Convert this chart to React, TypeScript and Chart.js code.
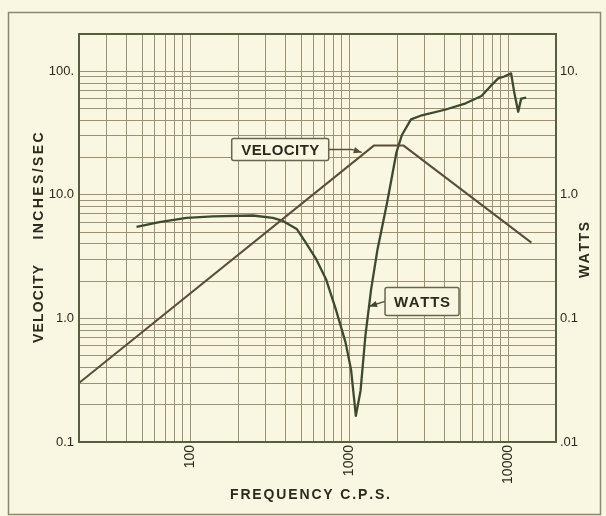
import React, { useEffect, useRef } from "react";
import { Chart, registerables } from "chart.js";

Chart.register(...registerables);

// ---- data ----
const velocityFreq = [20, 1430, 2200, 14000];
const velocityValues = [0.3, 25, 25, 4.1];

const wattsFreq = [
  46, 64, 95, 139, 248, 331, 383, 468, 540, 622, 718, 824, 949, 1028, 1102,
  1180, 1265, 1374, 1507, 1735, 1983, 2143, 2449, 2867, 4053, 5408, 6800,
  7850, 8660, 9460, 10440, 10910, 11570, 12080, 12980,
];
const wattsValues = [
  0.55, 0.6, 0.65, 0.67, 0.68, 0.65, 0.615, 0.53, 0.4, 0.3, 0.205, 0.119,
  0.064, 0.0385, 0.0163, 0.026, 0.072, 0.171, 0.36, 0.87, 2.2, 3.03, 4.08,
  4.4, 4.9, 5.5, 6.3, 7.7, 8.75, 9.06, 9.6, 6.8, 4.7, 6.0, 6.1,
];

// grid / tick values
const xGridValues = [
  20, 30, 40, 50, 60, 70, 80, 90, 100, 200, 300, 400, 500, 600, 700, 800, 900,
  1000, 2000, 3000, 4000, 5000, 6000, 7000, 8000, 9000, 10000, 20000,
];
const xLabelValues = [100, 1000, 10000];
const xLabelTexts = ["100", "1000", "10000"];

const velGridValues = [
  0.1, 0.2, 0.3, 0.4, 0.5, 0.6, 0.7, 0.8, 0.9, 1, 2, 3, 4, 5, 6, 7, 8, 9, 10,
  20, 30, 40, 50, 60, 70, 80, 90, 100, 200,
];
const velLabelValues = [0.1, 1, 10, 100];
const velLabelTexts = ["0.1", "1.0", "10.0", "100."];

const wattLabelValues = [0.01, 0.1, 1, 10];
const wattLabelTexts = [".01", "0.1", "1.0", "10."];

const xTitle = "FREQUENCY C.P.S.";
const leftTitleWords = ["VELOCITY", "INCHES/SEC"];
const rightTitle = "WATTS";

// callouts: text and the data point that the arrow points at
const velocityCallout = { text: "VELOCITY", freq: 1200, value: 22 };
const wattsCallout = { text: "WATTS", freq: 1334, value: 0.125 };

// ---- styles ----
const PAPER = "#f9f7e2";
const GRID = "#a09072";
const FRAME = "#56603f";
const INK = "#2c2a1e";
const VEL_COLOR = "#5a4e38";
const WATT_COLOR = "#3e4a2c";
const FONT = "'Liberation Sans', 'DejaVu Sans', sans-serif";

function labelFor(value: number, values: number[], texts: string[]) {
  for (let i = 0; i < values.length; i++) {
    if (Math.abs(value - values[i]) / values[i] < 1e-6) return texts[i];
  }
  return "";
}

// draws text centred at (cx, cy) stretched with letter spacing to a target width
function spacedText(ctx: CanvasRenderingContext2D, text: string, cx: number, cy: number, target: number) {
  const chars = Array.from(text);
  const widths = chars.map((c) => ctx.measureText(c).width);
  const natural = widths.reduce((a, b) => a + b, 0);
  const gap = chars.length > 1 ? Math.max(0, (target - natural) / (chars.length - 1)) : 0;
  let x = cx - (natural + gap * (chars.length - 1)) / 2;
  ctx.textAlign = "left";
  chars.forEach((c, i) => {
    ctx.fillText(c, x, cy);
    x += widths[i] + gap;
  });
}

function drawArrowHead(ctx: CanvasRenderingContext2D, fx: number, fy: number, tx: number, ty: number) {
  const ang = Math.atan2(ty - fy, tx - fx);
  const len = 8;
  const half = 3.2;
  ctx.beginPath();
  ctx.moveTo(tx, ty);
  ctx.lineTo(tx - len * Math.cos(ang) + half * Math.sin(ang), ty - len * Math.sin(ang) - half * Math.cos(ang));
  ctx.lineTo(tx - len * Math.cos(ang) - half * Math.sin(ang), ty - len * Math.sin(ang) + half * Math.cos(ang));
  ctx.closePath();
  ctx.fill();
}

function drawBox(ctx: CanvasRenderingContext2D, x: number, y: number, w: number, h: number) {
  const r = 2;
  ctx.beginPath();
  ctx.moveTo(x + r, y);
  ctx.lineTo(x + w - r, y);
  ctx.quadraticCurveTo(x + w, y, x + w, y + r);
  ctx.lineTo(x + w, y + h - r);
  ctx.quadraticCurveTo(x + w, y + h, x + w - r, y + h);
  ctx.lineTo(x + r, y + h);
  ctx.quadraticCurveTo(x, y + h, x, y + h - r);
  ctx.lineTo(x, y + r);
  ctx.quadraticCurveTo(x, y, x + r, y);
  ctx.closePath();
  ctx.fillStyle = PAPER;
  ctx.fill();
  ctx.strokeStyle = "#66654f";
  ctx.lineWidth = 1.5;
  ctx.stroke();
}

const paperPlugin = {
  id: "paper",
  beforeDraw(chart: any) {
    const { ctx, width, height } = chart;
    ctx.save();
    ctx.fillStyle = PAPER;
    ctx.fillRect(0, 0, width, height);
    ctx.restore();
  },
  afterDatasetsDraw(chart: any) {
    const { ctx } = chart;
    const xs = chart.scales.x;
    const ys = chart.scales.y;
    const y2 = chart.scales.y2;
    ctx.save();
    ctx.font = `600 15px ${FONT}`;
    ctx.textBaseline = "middle";

    // VELOCITY callout (box left of the line, arrow pointing right)
    {
      const tx = xs.getPixelForValue(velocityCallout.freq);
      const ty = ys.getPixelForValue(velocityCallout.value);
      const w = 97;
      const h = 22;
      const bx = tx - 33 - w;
      const cy = ty - 3;
      ctx.strokeStyle = VEL_COLOR;
      ctx.fillStyle = VEL_COLOR;
      ctx.lineWidth = 1.3;
      ctx.beginPath();
      ctx.moveTo(bx + w, cy);
      ctx.lineTo(tx - 10, cy);
      ctx.lineTo(tx, ty);
      ctx.stroke();
      drawArrowHead(ctx, tx - 10, cy, tx, ty);
      drawBox(ctx, bx, cy - h / 2, w, h);
      ctx.fillStyle = INK;
      spacedText(ctx, velocityCallout.text, bx + w / 2, cy + 1, 78);
    }

    // WATTS callout (box right of the curve, arrow pointing left)
    {
      const tx = xs.getPixelForValue(wattsCallout.freq);
      const ty = y2.getPixelForValue(wattsCallout.value);
      const w = 74;
      const h = 28;
      const bx = tx + 16;
      const cy = ty - 5;
      ctx.strokeStyle = WATT_COLOR;
      ctx.fillStyle = WATT_COLOR;
      ctx.lineWidth = 1.3;
      ctx.beginPath();
      ctx.moveTo(bx, cy);
      ctx.lineTo(tx, ty);
      ctx.stroke();
      drawArrowHead(ctx, bx, cy, tx, ty);
      drawBox(ctx, bx, cy - h / 2, w, h);
      ctx.fillStyle = INK;
      spacedText(ctx, wattsCallout.text, bx + w / 2, cy + 1, 56);
    }
    ctx.restore();
  },
  afterDraw(chart: any) {
    const { ctx, chartArea } = chart;
    ctx.save();
    // plot frame
    ctx.strokeStyle = FRAME;
    ctx.lineWidth = 2;
    ctx.strokeRect(chartArea.left, chartArea.top, chartArea.right - chartArea.left, chartArea.bottom - chartArea.top);
    // outer figure frame
    ctx.strokeStyle = "#8f866c";
    ctx.lineWidth = 1.5;
    ctx.strokeRect(8.5, 12.5, 592, 502);

    // titles
    ctx.fillStyle = INK;
    ctx.font = `600 14px ${FONT}`;
    ctx.textBaseline = "middle";
    spacedText(ctx, xTitle, 310, 495, 160);

    ctx.save();
    ctx.translate(39, 0);
    ctx.rotate(-Math.PI / 2);
    // rotated frame: x' = -y
    spacedText(ctx, leftTitleWords[0], -304, 0, 78);
    spacedText(ctx, leftTitleWords[1], -186, 0, 107);
    ctx.restore();

    ctx.save();
    ctx.translate(585, 250);
    ctx.rotate(-Math.PI / 2);
    spacedText(ctx, rightTitle, 0, 0, 56);
    ctx.restore();

    ctx.restore();
  },
};

export default function App() {
  const canvasRef = useRef<HTMLCanvasElement | null>(null);

  useEffect(() => {
    const canvas = canvasRef.current;
    if (!canvas) return;
    const chart = new Chart(canvas, {
      type: "line",
      data: {
        datasets: [
          {
            label: "Velocity",
            data: velocityFreq.map((f, i) => ({ x: f, y: velocityValues[i] })),
            borderColor: VEL_COLOR,
            borderWidth: 2,
            pointRadius: 0,
            tension: 0,
            yAxisID: "y",
          },
          {
            label: "Watts",
            data: wattsFreq.map((f, i) => ({ x: f, y: wattsValues[i] })),
            borderColor: WATT_COLOR,
            borderWidth: 2.3,
            pointRadius: 0,
            tension: 0,
            borderJoinStyle: "round",
            yAxisID: "y2",
          },
        ],
      },
      options: {
        responsive: false,
        animation: false,
        devicePixelRatio: 1,
        layout: { padding: { top: 34, left: 0, right: 0, bottom: 0 } },
        plugins: {
          legend: { display: false },
          tooltip: { enabled: false },
          title: { display: false },
        },
        scales: {
          x: {
            type: "logarithmic",
            min: 20,
            max: 20000,
            afterBuildTicks: (axis: any) => {
              axis.ticks = xGridValues.map((v) => ({ value: v }));
            },
            afterFit: (axis: any) => {
              axis.height = 74;
            },
            grid: { color: GRID, lineWidth: 1, drawTicks: false },
            border: { display: false },
            ticks: {
              autoSkip: false,
              minRotation: 90,
              maxRotation: 90,
              padding: 3,
              color: INK,
              font: { family: FONT, size: 14 },
              callback: (v: any) => labelFor(Number(v), xLabelValues, xLabelTexts),
            },
          },
          y: {
            type: "logarithmic",
            position: "left",
            min: 0.1,
            max: 200,
            afterBuildTicks: (axis: any) => {
              axis.ticks = velGridValues.map((v) => ({ value: v }));
            },
            afterFit: (axis: any) => {
              axis.width = 79;
            },
            grid: { color: GRID, lineWidth: 1, drawTicks: false },
            border: { display: false },
            ticks: {
              autoSkip: false,
              padding: 5,
              color: INK,
              font: { family: FONT, size: 13 },
              callback: (v: any) => labelFor(Number(v), velLabelValues, velLabelTexts),
            },
          },
          y2: {
            type: "logarithmic",
            position: "right",
            min: 0.01,
            max: 20,
            afterBuildTicks: (axis: any) => {
              axis.ticks = wattLabelValues.map((v) => ({ value: v }));
            },
            afterFit: (axis: any) => {
              axis.width = 50;
            },
            grid: { display: false, drawTicks: false },
            border: { display: false },
            ticks: {
              autoSkip: false,
              padding: 4,
              color: INK,
              font: { family: FONT, size: 13 },
              callback: (v: any) => labelFor(Number(v), wattLabelValues, wattLabelTexts),
            },
          },
        },
      },
      plugins: [paperPlugin],
    });
    return () => chart.destroy();
  }, []);

  return (
    <div style={{ position: "absolute", left: 0, top: 0, width: 606, height: 516 }}>
      <canvas ref={canvasRef} width={606} height={516} style={{ width: 606, height: 516, display: "block" }} />
    </div>
  );
}
